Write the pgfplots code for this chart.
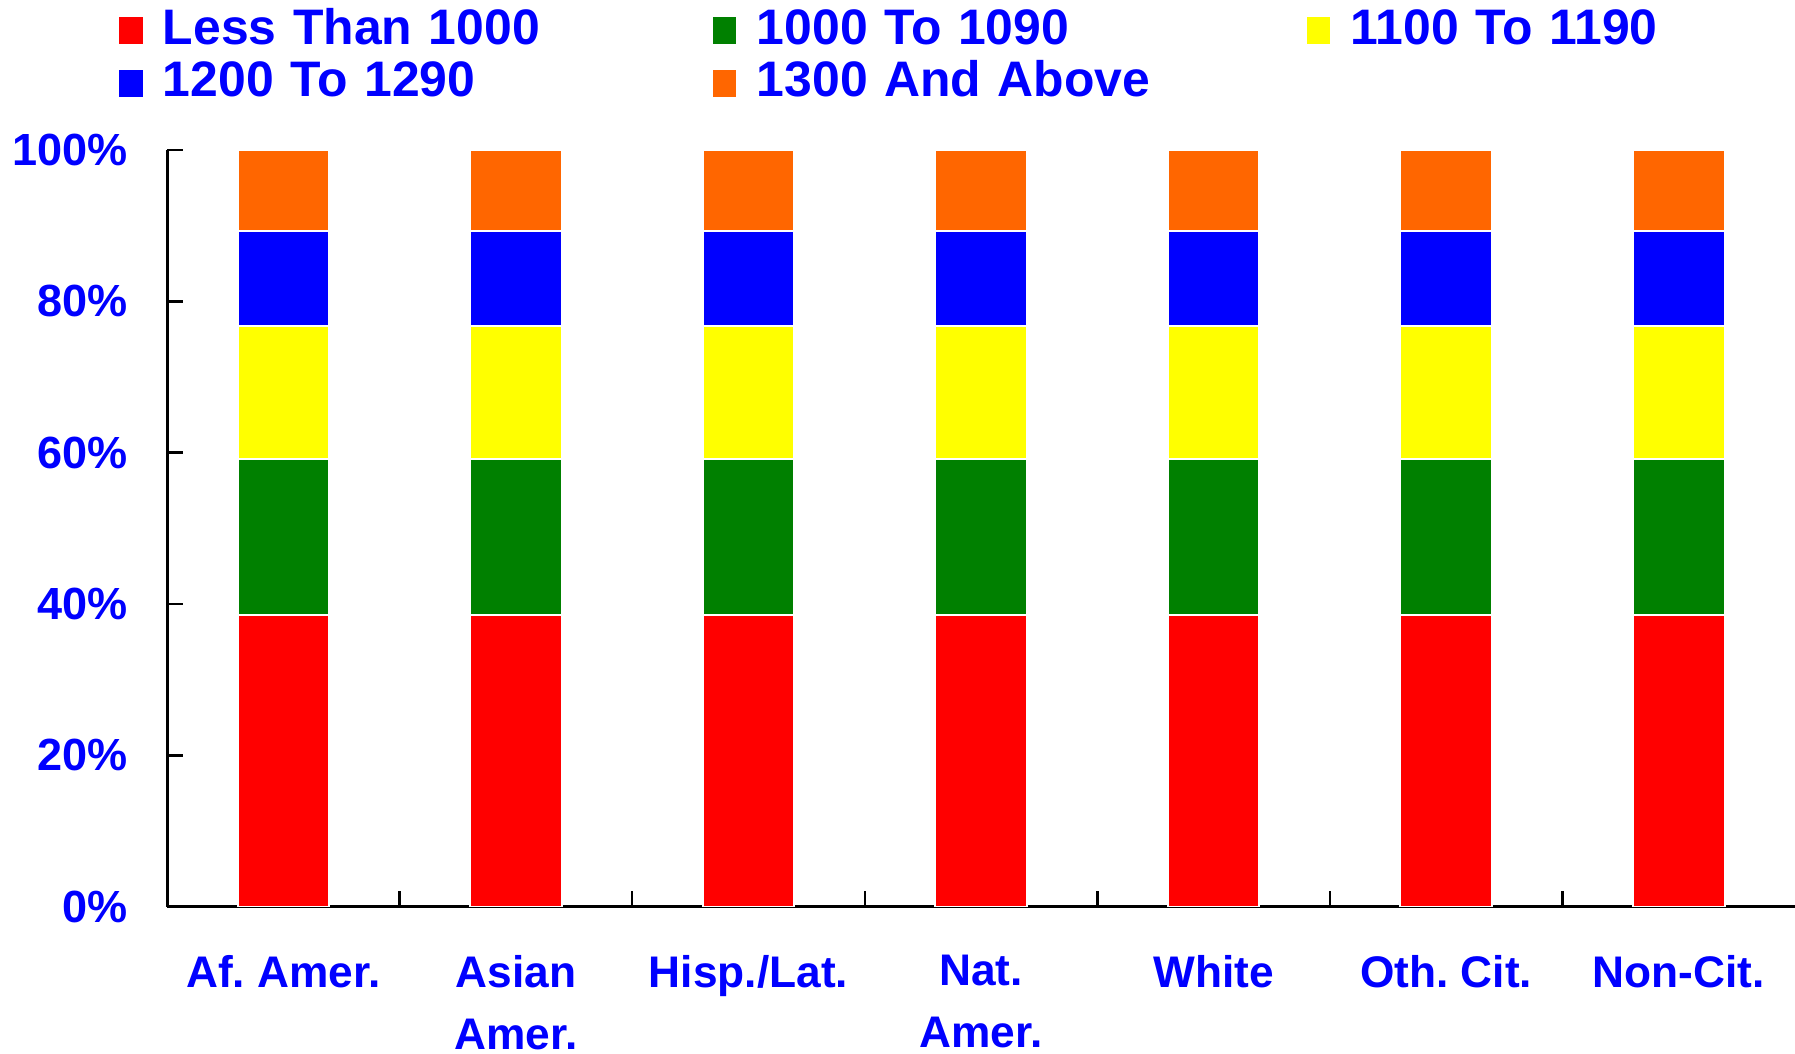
\documentclass[border=0pt]{standalone}
\usepackage{pgfplots}
\pgfplotsset{compat=1.18}
\usepackage{pgfplotstable}
\usepackage{fontspec}
\setmainfont{Liberation Sans}
\frenchspacing
\definecolor{cRed}{RGB}{255,0,0}
\definecolor{cGreen}{RGB}{0,128,0}
\definecolor{cYellow}{RGB}{255,255,0}
\definecolor{cBlue}{RGB}{0,0,255}
\definecolor{cOrange}{RGB}{255,102,0}
\definecolor{txt}{RGB}{0,0,255}
\pgfplotstableread{
x p1 p2 p3 p4 p5
0 38.5 20.7 17.6 12.5 10.7
1 38.5 20.7 17.6 12.5 10.7
2 38.5 20.7 17.6 12.5 10.7
3 38.5 20.7 17.6 12.5 10.7
4 38.5 20.7 17.6 12.5 10.7
5 38.5 20.7 17.6 12.5 10.7
6 38.5 20.7 17.6 12.5 10.7
}\data
\begin{document}
\frenchspacing
\begin{tikzpicture}
\path[use as bounding box] (-14.6mm,-12.8mm) rectangle (142.2mm,79.2mm);
\begin{axis}[
  scale only axis, width=142.2mm, height=66.1mm,
  ybar stacked, bar width=8mm,
  xmin=-0.5, xmax=6.5, ymin=0, ymax=100,
  axis x line*=bottom, axis y line*=left,
  axis line style={black, line width=0.8pt},
  xtick={0,...,6},
  xticklabels={Af. Amer., Asian\\Amer., Hisp./Lat., Nat.\\Amer., White, Oth. Cit., Non-Cit.},
  minor xtick={0.5,1.5,...,5.5},
  major x tick style={draw=none},
  minor x tick style={black, line width=0.6pt},
  tick align=inside,
  minor tick length=1.4mm,
  ytick={0,20,...,100},
  yticklabels={0\%,20\%,40\%,60\%,80\%,100\%},
  major y tick style={black, line width=0.6pt},
  major tick length=1.4mm,
  xticklabel style={font=\fontsize{11}{15.4}\selectfont\bfseries\frenchspacing, text=txt, align=center, yshift=-3mm},
  yticklabel style={font=\fontsize{11.2}{13}\selectfont\bfseries, text=txt, xshift=-2.2mm},
  legend columns=3,
  legend style={at={(rel axis cs:-0.0311,1.1906)}, anchor=north west, draw=none, fill=none, inner sep=0pt,
    font=\fontsize{12.4}{14}\selectfont\bfseries, text=txt, row sep=0.4mm,
    /tikz/every odd column/.append style={column sep=0.9mm},
    nodes={inner ysep=0pt, text height=3.3mm, text depth=0.9mm, text width=47.2mm, align=left}},
  legend image code/.code={\fill[#1] (0mm,-1.25mm) rectangle (2.2mm,1.25mm);},
]
\addplot[fill=cRed, draw=white, line width=0.5pt] table[x=x, y=p1] {\data};
\addplot[fill=cGreen, draw=white, line width=0.5pt] table[x=x, y=p2] {\data};
\addplot[fill=cYellow, draw=white, line width=0.5pt] table[x=x, y=p3] {\data};
\addplot[fill=cBlue, draw=white, line width=0.5pt] table[x=x, y=p4] {\data};
\addplot[fill=cOrange, draw=white, line width=0.5pt] table[x=x, y=p5] {\data};
\legend{Less Than 1000, 1000 To 1090, 1100 To 1190, 1200 To 1290, 1300 And Above}
\end{axis}
\end{tikzpicture}
\end{document}
